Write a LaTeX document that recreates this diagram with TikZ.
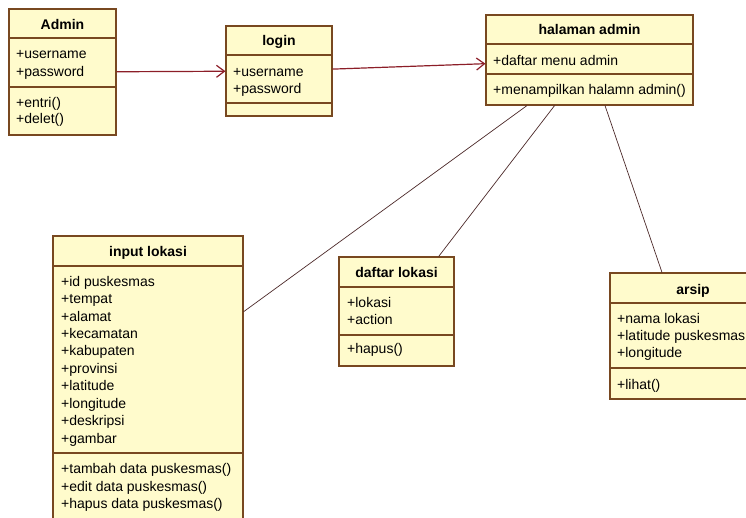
\documentclass[tikz,border=0pt]{standalone}
\usepackage{fontspec}
\setmainfont{Liberation Sans}
\usetikzlibrary{arrows.meta}

\definecolor{boxfill}{RGB}{255,251,204}
\definecolor{boxline}{RGB}{120,72,32}
\definecolor{arrowline}{RGB}{140,30,40}
\definecolor{assocline}{RGB}{75,40,40}

\tikzset{
  classbox/.style={draw=boxline, fill=boxfill, line width=1.1pt, inner sep=0pt},
  sepline/.style={draw=boxline, line width=1.1pt},
  classtitle/.style={anchor=base, font=\fontsize{14}{17}\selectfont\bfseries, inner sep=0pt},
  member/.style={anchor=base west, font=\fontsize{14}{17}\selectfont, inner sep=0pt},
  navarrow/.style={draw=arrowline, line width=1.2pt, -{Straight Barb[length=8pt,width=12pt]}},
  assoc/.style={draw=assocline, line width=0.7pt}
}

\begin{document}
\begin{tikzpicture}[x=1pt, y=-1pt]
    \useasboundingbox (0,0) rectangle (746,517);

    % class boxes
    \node[classbox, minimum width=107pt, minimum height=126pt] (admin) at (62.5,72) {};
    \node[classbox, minimum width=106pt, minimum height=90pt] (login) at (279,71) {};
    \node[classbox, minimum width=207pt, minimum height=90pt] (halaman) at (589.5,60) {};
    \node[classbox, minimum width=190pt, minimum height=290pt] (input) at (148,381) {};
    \node[classbox, minimum width=115pt, minimum height=109pt] (daftar) at (396.5,311.5) {};
    \node[classbox, minimum width=166pt, minimum height=126pt] (arsip) at (693,336) {};

    % compartments
    \draw[sepline] (9,38) -- (116,38);
    \draw[sepline] (9,87) -- (116,87);
    \draw[sepline] (226,55) -- (332,55);
    \draw[sepline] (226,103) -- (332,103);
    \draw[sepline] (486,44) -- (693,44);
    \draw[sepline] (486,74) -- (693,74);
    \draw[sepline] (53,266) -- (243,266);
    \draw[sepline] (53,453) -- (243,453);
    \draw[sepline] (339,287) -- (454,287);
    \draw[sepline] (339,335) -- (454,335);
    \draw[sepline] (610,303) -- (776,303);
    \draw[sepline] (610,368) -- (776,368);

    % Admin
    \node[classtitle] (admin-t) at (62.5,29) {Admin};
    \node[member] (admin-a1) at (16,58) {+username};
    \node[member] (admin-a2) at (16,76) {+password};
    \node[member] (admin-m1) at (16,107) {+entri()};
    \node[member] (admin-m2) at (16,123) {+delet()};

    % login
    \node[classtitle] (login-t) at (279,45) {login};
    \node[member] (login-a1) at (233,76) {+username};
    \node[member] (login-a2) at (233,93) {+password};

    % halaman admin
    \node[classtitle] (halaman-t) at (589.5,34) {halaman admin};
    \node[member] (halaman-a1) at (493,65) {+daftar menu admin};
    \node[member] (halaman-m1) at (493,94) {+menampilkan halamn admin()};

    % input lokasi
    \node[classtitle] (input-t) at (148,256) {input lokasi};
    \node[member] (input-a1) at (61,286) {+id puskesmas};
    \node[member] (input-a2) at (61,303) {+tempat};
    \node[member] (input-a3) at (61,321) {+alamat};
    \node[member] (input-a4) at (61,338) {+kecamatan};
    \node[member] (input-a5) at (61,355) {+kabupaten};
    \node[member] (input-a6) at (61,373) {+provinsi};
    \node[member] (input-a7) at (61,390) {+latitude};
    \node[member] (input-a8) at (61,408) {+longitude};
    \node[member] (input-a9) at (61,425) {+deskripsi};
    \node[member] (input-a10) at (61,443) {+gambar};
    \node[member] (input-m1) at (61,473) {+tambah data puskesmas()};
    \node[member] (input-m2) at (61,491) {+edit data puskesmas()};
    \node[member] (input-m3) at (61,508) {+hapus data puskesmas()};

    % daftar lokasi
    \node[classtitle] (daftar-t) at (396.5,277) {daftar lokasi};
    \node[member] (daftar-a1) at (347,307) {+lokasi};
    \node[member] (daftar-a2) at (347,324) {+action};
    \node[member] (daftar-m1) at (347,353) {+hapus()};

    % arsip
    \node[classtitle] (arsip-t) at (693,294) {arsip};
    \node[member] (arsip-a1) at (617,323) {+nama lokasi};
    \node[member] (arsip-a2) at (617,340) {+latitude puskesmas};
    \node[member] (arsip-a3) at (617,357) {+longitude};
    \node[member] (arsip-m1) at (617,389) {+lihat()};

    % connectors
    \draw[navarrow] (admin) -- (login);
    \draw[navarrow] (login) -- (halaman);
    \draw[assoc] (halaman) -- (input);
    \draw[assoc] (halaman) -- (daftar);
    \draw[assoc] ([xshift=15.5pt]halaman.south) -- ([xshift=-31pt]arsip.north);
  \end{tikzpicture}
\end{document}
